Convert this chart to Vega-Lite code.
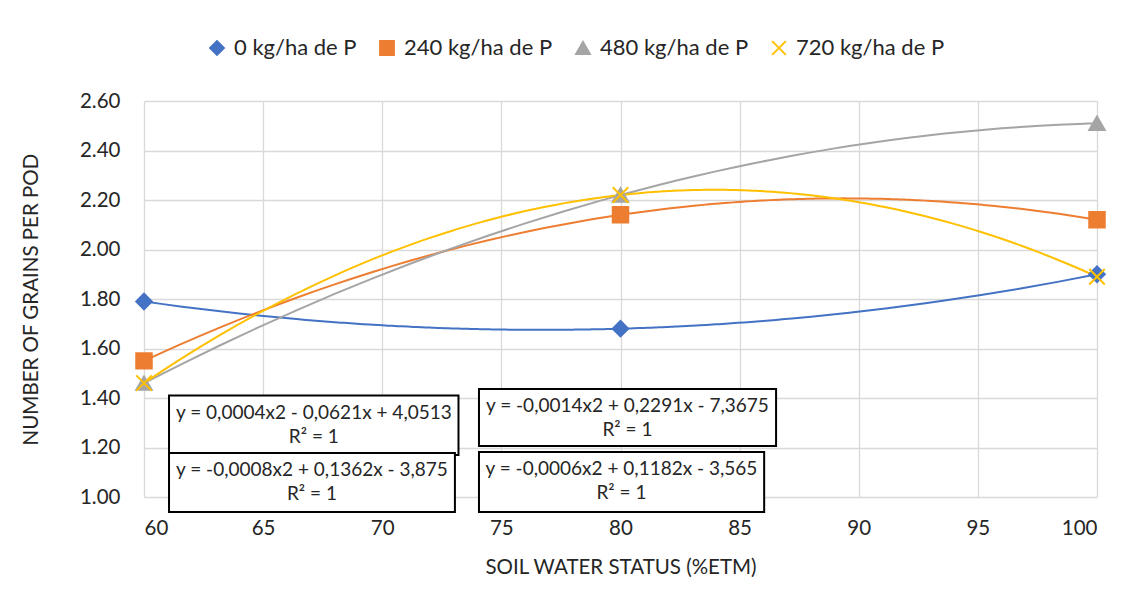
{
  "$schema": "https://vega.github.io/schema/vega-lite/v6.json",
  "width": 953,
  "height": 396,
  "autosize": {"type": "none"},
  "padding": {"left": 144, "top": 101, "right": 38, "bottom": 108},
  "background": "white",
  "config": {
    "font": "Lato",
    "view": {"stroke": null},
    "axis": {
      "gridColor": "#d9d9d9",
      "gridWidth": 1.3,
      "domain": false,
      "ticks": false,
      "labelFont": "Lato",
      "labelFontSize": 20.5,
      "labelColor": "#262626",
      "titleFont": "Lato",
      "titleFontSize": 20.5,
      "titleFontWeight": "normal",
      "titleColor": "#262626"
    },
    "legend": {
      "labelFont": "Lato",
      "labelFontSize": 22,
      "labelColor": "#262626",
      "symbolStrokeWidth": 2,
      "symbolSize": 190,
      "labelOffset": 6,
      "columnPadding": 19,
      "padding": 0
    }
  },
  "datasets": {
    "pts": [
      {"series": "0 kg/ha de P", "x": 60, "y": 1.79},
      {"series": "0 kg/ha de P", "x": 80, "y": 1.68},
      {"series": "0 kg/ha de P", "x": 100, "y": 1.90},
      {"series": "240 kg/ha de P", "x": 60, "y": 1.55},
      {"series": "240 kg/ha de P", "x": 80, "y": 2.14},
      {"series": "240 kg/ha de P", "x": 100, "y": 2.12},
      {"series": "480 kg/ha de P", "x": 60, "y": 1.46},
      {"series": "480 kg/ha de P", "x": 80, "y": 2.22},
      {"series": "480 kg/ha de P", "x": 100, "y": 2.51},
      {"series": "720 kg/ha de P", "x": 60, "y": 1.46},
      {"series": "720 kg/ha de P", "x": 80, "y": 2.22},
      {"series": "720 kg/ha de P", "x": 100, "y": 1.89}
    ],
    "eqs": [
      {"x1": 61.05, "x2": 73.2, "y1": 1.41, "y2": 1.17, "tx": 67.13, "eq": "y = 0,0004x2 - 0,0621x + 4,0513", "r2": "R² = 1"},
      {"x1": 61.05, "x2": 73.05, "y1": 1.178, "y2": 0.939, "tx": 67.05, "eq": "y = -0,0008x2 + 0,1362x - 3,875", "r2": "R² = 1"},
      {"x1": 74.06, "x2": 86.53, "y1": 1.436, "y2": 1.206, "tx": 80.29, "eq": "y = -0,0014x2 + 0,2291x - 7,3675", "r2": "R² = 1"},
      {"x1": 74.06, "x2": 86.03, "y1": 1.182, "y2": 0.939, "tx": 80.04, "eq": "y = -0,0006x2 + 0,1182x - 3,565", "r2": "R² = 1"}
    ]
  },
  "layer": [
    {
      "data": {"name": "pts"},
      "transform": [
        {"regression": "y", "on": "x", "groupby": ["series"], "method": "poly", "order": 2, "extent": [60, 100]}
      ],
      "mark": {"type": "line", "strokeWidth": 2, "interpolate": "monotone"},
      "encoding": {
        "x": {
          "field": "x", "type": "quantitative",
          "scale": {"domain": [60, 100], "nice": false, "zero": false},
          "axis": {"values": [60, 65, 70, 75, 80, 85, 90, 95, 100], "labelPadding": 21, "title": "SOIL WATER STATUS (%ETM)", "titlePadding": 19}
        },
        "y": {
          "field": "y", "type": "quantitative",
          "scale": {"domain": [1, 2.6], "nice": false, "zero": false},
          "axis": {"values": [1, 1.2, 1.4, 1.6, 1.8, 2, 2.2, 2.4, 2.6], "format": ".2f", "labelPadding": 24, "title": "NUMBER OF GRAINS PER POD", "titlePadding": 38}
        },
        "stroke": {
          "field": "series", "type": "nominal",
          "scale": {"domain": ["0 kg/ha de P", "240 kg/ha de P", "480 kg/ha de P", "720 kg/ha de P"], "range": ["#4472C4", "#ED7D31", "#A5A5A5", "#FFC000"]},
          "legend": {"title": null, "orient": "none", "direction": "horizontal", "columns": 4, "legendX": 62, "legendY": -64}
        }
      }
    },
    {
      "data": {"name": "pts"},
      "mark": {"type": "point", "filled": true, "strokeWidth": 2, "opacity": 1, "size": 240},
      "encoding": {
        "x": {"field": "x", "type": "quantitative"},
        "y": {"field": "y", "type": "quantitative"},
        "stroke": {"field": "series", "type": "nominal"},
        "fill": {
          "field": "series", "type": "nominal",
          "scale": {"domain": ["0 kg/ha de P", "240 kg/ha de P", "480 kg/ha de P", "720 kg/ha de P"], "range": ["#4472C4", "#ED7D31", "#A5A5A5", "#FFC000"]},
          "legend": {"title": null, "orient": "none", "direction": "horizontal", "columns": 4, "legendX": 62, "legendY": -64}
        },
        "shape": {
          "field": "series", "type": "nominal",
          "scale": {"domain": ["0 kg/ha de P", "240 kg/ha de P", "480 kg/ha de P", "720 kg/ha de P"], "range": ["diamond", "square", "triangle-up", "M-1,-1L1,1M1,-1L-1,1"]},
          "legend": {"title": null, "orient": "none", "direction": "horizontal", "columns": 4, "legendX": 62, "legendY": -64}
        }
      }
    },
    {
      "data": {"name": "eqs"},
      "mark": {"type": "rect", "fill": "white", "stroke": "black", "strokeWidth": 2},
      "encoding": {
        "x": {"field": "x1", "type": "quantitative"},
        "x2": {"field": "x2"},
        "y": {"field": "y1", "type": "quantitative"},
        "y2": {"field": "y2"}
      }
    },
    {
      "data": {"name": "eqs"},
      "mark": {"type": "text", "font": "Lato", "fontSize": 19, "color": "#262626", "align": "center", "baseline": "middle", "dy": 17},
      "encoding": {
        "x": {"field": "tx", "type": "quantitative"},
        "y": {"field": "y1", "type": "quantitative"},
        "text": {"field": "eq"}
      }
    },
    {
      "data": {"name": "eqs"},
      "mark": {"type": "text", "font": "Lato", "fontSize": 19, "color": "#262626", "align": "center", "baseline": "middle", "dy": 41},
      "encoding": {
        "x": {"field": "tx", "type": "quantitative"},
        "y": {"field": "y1", "type": "quantitative"},
        "text": {"field": "r2"}
      }
    }
  ]
}
